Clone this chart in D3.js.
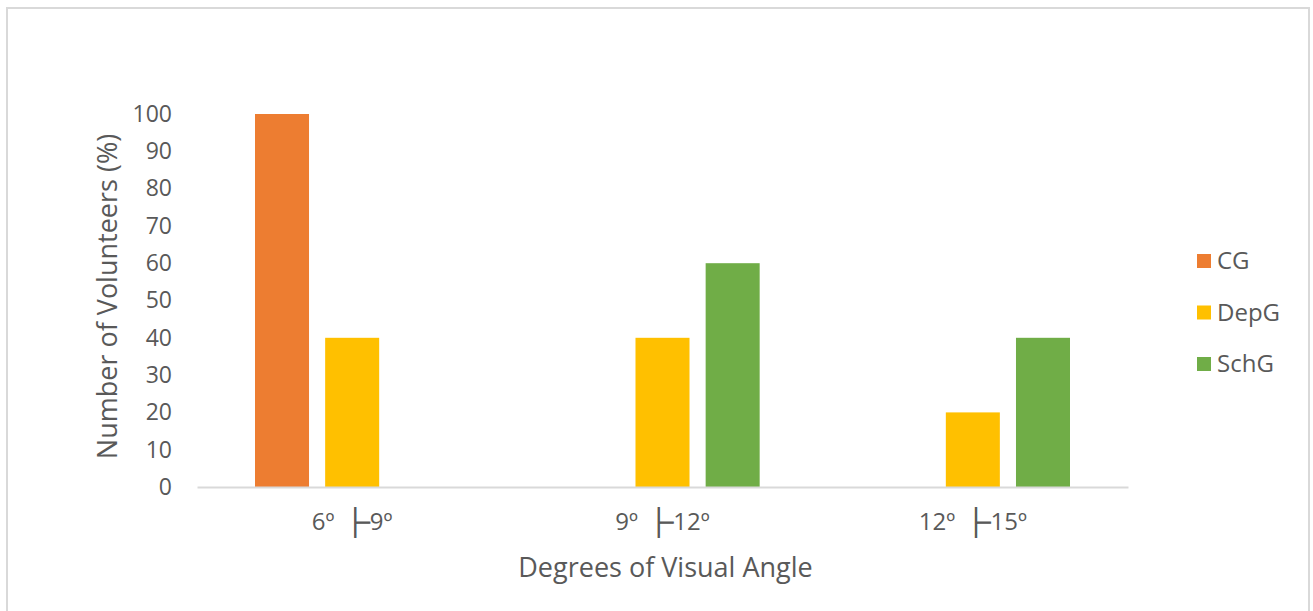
<!DOCTYPE html>
<html>
<head>
<meta charset="utf-8">
<script src="https://cdn.jsdelivr.net/npm/d3@7"></script>
<style>
  html, body { margin: 0; padding: 0; background: #fff; }
  svg { display: block; }
  text { font-family: "Open Sans", Lato, sans-serif; fill: #595959; }
</style>
</head>
<body>
<svg id="chart" width="1313" height="611"></svg>
<script>
// Share of volunteers per visual-angle range, by group
const categories = ["6º ├9º", "9º ├12º", "12º ├15º"];
const seriesNames = ["CG", "DepG", "SchG"];
const cgValues = [100, 0, 0];
const depgValues = [40, 40, 20];
const schgValues = [0, 60, 40];
const seriesColors = ["#ED7D31", "#FFC000", "#70AD47"];
const yTicks = [0, 10, 20, 30, 40, 50, 60, 70, 80, 90, 100];

const seriesValues = [cgValues, depgValues, schgValues];
const rows = categories.map((c, i) => ({
  category: c,
  values: seriesNames.map((s, j) => ({ series: s, value: seriesValues[j][i] }))
}));

const FONT = "'Open Sans', Lato, sans-serif";
const MARK_FONT = "'Noto Sans CJK JP', 'DejaVu Sans', sans-serif";
const svg = d3.select("#chart");

// chart frame
svg.append("rect")
  .attr("x", 7).attr("y", 8)
  .attr("width", 1302).attr("height", 610)
  .attr("fill", "#fff")
  .attr("stroke", "#d9d9d9").attr("stroke-width", 2);

const plot = { left: 197, right: 1128, top: 114, bottom: 487 };

const x0 = d3.scaleBand()
  .domain(categories)
  .range([plot.left, plot.right])
  .paddingInner(0).paddingOuter(0);

const x1 = d3.scaleBand()
  .domain(seriesNames)
  .range([58, x0.bandwidth() - 58])
  .paddingInner(0.23);

const y = d3.scaleLinear().domain([0, 100]).range([plot.bottom, plot.top]);
const color = d3.scaleOrdinal().domain(seriesNames).range(seriesColors);

// bars
const groups = svg.append("g").selectAll("g")
  .data(rows).join("g")
  .attr("transform", d => `translate(${x0(d.category)},0)`);

groups.selectAll("rect")
  .data(d => d.values.filter(v => v.value > 0))
  .join("rect")
  .attr("x", d => x1(d.series))
  .attr("width", x1.bandwidth())
  .attr("y", d => y(d.value))
  .attr("height", d => y(0) - y(d.value))
  .attr("fill", d => color(d.series));

// y axis labels
const yAxis = d3.axisLeft(y).tickValues(yTicks).tickSize(0).tickPadding(0);
const yg = svg.append("g")
  .attr("transform", `translate(172,0)`)
  .call(yAxis);
yg.select(".domain").remove();
yg.selectAll("text")
  .attr("font-size", 23)
  .style("font-family", FONT)
  .attr("fill", "#595959");

// x axis baseline and labels
const xAxis = d3.axisBottom(x0).tickSize(0).tickPadding(0);
const xg = svg.append("g")
  .attr("transform", `translate(0,${plot.bottom})`)
  .call(xAxis);
xg.select(".domain").attr("stroke", "#d9d9d9").attr("stroke-width", 2);
xg.selectAll("text")
  .attr("dy", 0)
  .attr("y", 43)
  .attr("font-size", 24)
  .style("font-family", FONT)
  .attr("fill", "#595959")
  .each(function(d) {
    // split "a ├b" so the range marker can use its own font
    const [from, to] = d.split("├");
    const t = d3.select(this).text(null);
    t.append("tspan").text(from);
    t.append("tspan")
      .style("font-family", MARK_FONT)
      .attr("font-size", 29)
      .attr("stroke", "#595959")
      .attr("stroke-width", 1.1)
      .attr("dy", 4)
      .text("├");
    t.append("tspan").attr("dy", -4).text(to);
  });

// axis titles
svg.append("text")
  .attr("x", (plot.left + plot.right) / 2 + 3)
  .attr("y", 577)
  .attr("text-anchor", "middle")
  .attr("font-size", 27)
  .text("Degrees of Visual Angle");

svg.append("text")
  .attr("transform", `translate(117,${(plot.top + plot.bottom) / 2 - 4}) rotate(-90)`)
  .attr("text-anchor", "middle")
  .attr("font-size", 27)
  .text("Number of Volunteers (%)");

// legend
const legend = svg.append("g").selectAll("g")
  .data(seriesNames).join("g")
  .attr("transform", (d, i) => `translate(1197,${261 + i * 51.5})`);
legend.append("rect")
  .attr("x", 0).attr("y", -7)
  .attr("width", 14).attr("height", 14)
  .attr("fill", d => color(d));
legend.append("text")
  .attr("x", 20).attr("y", 8)
  .attr("font-size", 24)
  .text(d => d);
</script>
</body>
</html>
